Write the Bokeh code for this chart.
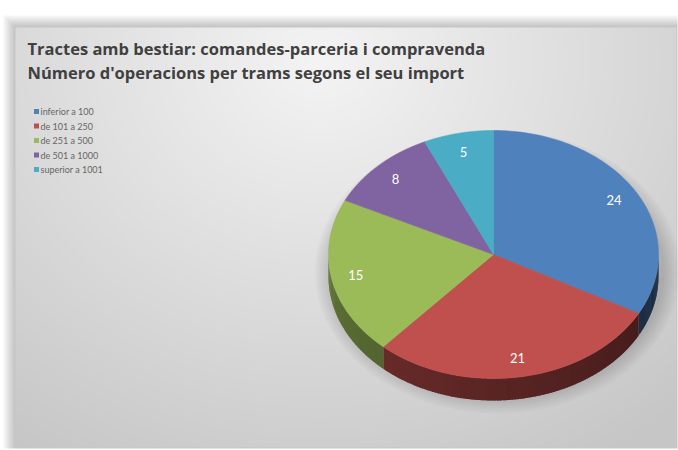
import numpy as np
from bokeh.plotting import figure
from bokeh.models import Range1d
from bokeh.embed import file_html
from bokeh.resources import INLINE
from bokeh.core.properties import value

# ---------------- data ----------------
title_lines = ["Tractes amb bestiar: comandes-parceria i compravenda",
               "Número d'operacions per trams segons el seu import"]
categories = ["inferior a 100", "de 101 a 250", "de 251 a 500", "de 501 a 1000", "superior a 1001"]
counts = [24, 21, 15, 8, 5]
colors = ["#4f81bd", "#c0504d", "#9bbb59", "#8064a2", "#4bacc6"]

W, H = 678, 450
FONT = "Lato"
TFONT = "Open Sans"


def Y(s):
    return H - s


p = figure(width=W, height=H, x_range=Range1d(0, W), y_range=Range1d(0, H),
           output_backend="svg", toolbar_location=None, min_border=0)
p.axis.visible = False
p.grid.visible = False
p.outline_line_color = None
p.background_fill_color = "white"
p.border_fill_color = "white"

# ---------------- panel shadow + gradient background ----------------
px0, px1, py0, py1 = 15, 676, 27, 447
for k in range(6, 0, -1):
    p.quad(left=px0 - 2 * k, right=px1 + 1, top=Y(py0 - 2 * k), bottom=Y(py1 + 1),
           fill_color="#000000", fill_alpha=0.04, line_color=None)

pw, ph = px1 - px0, py1 - py0
xx = np.arange(pw) + px0 + 0.5
yy = py1 - (np.arange(ph) + 0.5)  # row 0 is at bottom (screen y = py1)
X, YY = np.meshgrid(xx, yy)
d = np.sqrt(((X - 320) / 1.15) ** 2 + (YY - 60) ** 2)
g = np.clip(244 - 46 * (d / 470.0), 198, 244).astype(np.uint8)
img = np.zeros((ph, pw), dtype=np.uint32)
view = img.view(dtype=np.uint8).reshape((ph, pw, 4))
view[:, :, 0] = g
view[:, :, 1] = g
view[:, :, 2] = g
view[:, :, 3] = 255
p.image_rgba(image=[img], x=px0, y=Y(py1), dw=pw, dh=ph)

# ---------------- pie geometry ----------------
cx, cy = 493, Y(254)
rx, ry = 165, 124
depth = 22


def hexrgb(h):
    h = h.lstrip("#")
    return tuple(int(h[i:i + 2], 16) for i in (0, 2, 4))


def shade(h, f):
    r, gg, b = hexrgb(h)
    return "#%02x%02x%02x" % (int(r * f), int(gg * f), int(b * f))


# soft shadow under the pie
for k in range(7, 0, -1):
    p.ellipse(x=cx + 4, y=cy - depth * 0.6 - 4, width=2 * rx + 5 * k, height=2 * ry + 5 * k,
              fill_color="#000000", fill_alpha=0.025, line_color=None)

total = float(sum(counts))
fracs = np.array(counts) / total
starts = 90 - 360 * np.concatenate([[0], np.cumsum(fracs)[:-1]])
ends = starts - 360 * fracs

# side walls (front half only: angles in [-180, 0]) with smooth shading
sx, sy, sc = [], [], []
for s, e, c in zip(starts, ends, colors):
    a, b = max(e, -180.0), min(s, 0.0)
    if a >= b:
        continue
    n = max(2, int((b - a) / 1.0) + 1)
    edges = np.linspace(a, b, n)
    for t0, t1 in zip(edges[:-1], edges[1:]):
        lo, hi = t0, min(t1 + 0.6, b)
        tt = np.radians(np.linspace(lo, hi, 4))
        xs_top = cx + rx * np.cos(tt)
        ys_top = cy + ry * np.sin(tt)
        xs = np.concatenate([xs_top, xs_top[::-1]])
        ys = np.concatenate([ys_top, (ys_top - depth)[::-1]])
        tm = 0.5 * (t0 + t1)
        f = 0.62 - 0.30 * ((tm + 180) / 180.0)
        sx.append(list(xs))
        sy.append(list(ys))
        sc.append(shade(c, f))
p.patches(xs=sx, ys=sy, fill_color=sc, line_color=None)

# top faces
tx, ty = [], []
for s, e in zip(starts, ends):
    tt = np.radians(np.linspace(s, e, 120))
    tx.append([cx] + list(cx + rx * np.cos(tt)))
    ty.append([cy] + list(cy + ry * np.sin(tt)))
p.patches(xs=tx, ys=ty, fill_color=colors, line_color=colors, line_width=0.6)

# data labels
mids = np.radians(0.5 * (starts + ends))
lx = cx + 0.85 * rx * np.cos(mids)
ly = cy + 0.85 * ry * np.sin(mids)
p.text(x=list(lx), y=list(ly), text=[str(v) for v in counts], text_color="white",
       text_font=value(FONT), text_font_size="13px", text_align="center",
       text_baseline="middle")

# ---------------- legend ----------------
leg_y = [Y(111 + 14.5 * i) for i in range(len(categories))]
p.scatter(x=[36] * len(categories), y=leg_y, marker="square", size=5,
          fill_color=colors, line_color=None)
p.text(x=[40] * len(categories), y=leg_y, text=categories, text_color="#666666",
       text_font=value(FONT), text_font_size="9px", text_align="left",
       text_baseline="middle")

# ---------------- title ----------------
p.text(x=[27, 27], y=[Y(48), Y(72)], text=title_lines, text_color="#404040",
       text_font=value(TFONT), text_font_size="16.5px", text_font_style="bold",
       text_align="left", text_baseline="middle")

open("out.html", "w").write(file_html(p, INLINE))
